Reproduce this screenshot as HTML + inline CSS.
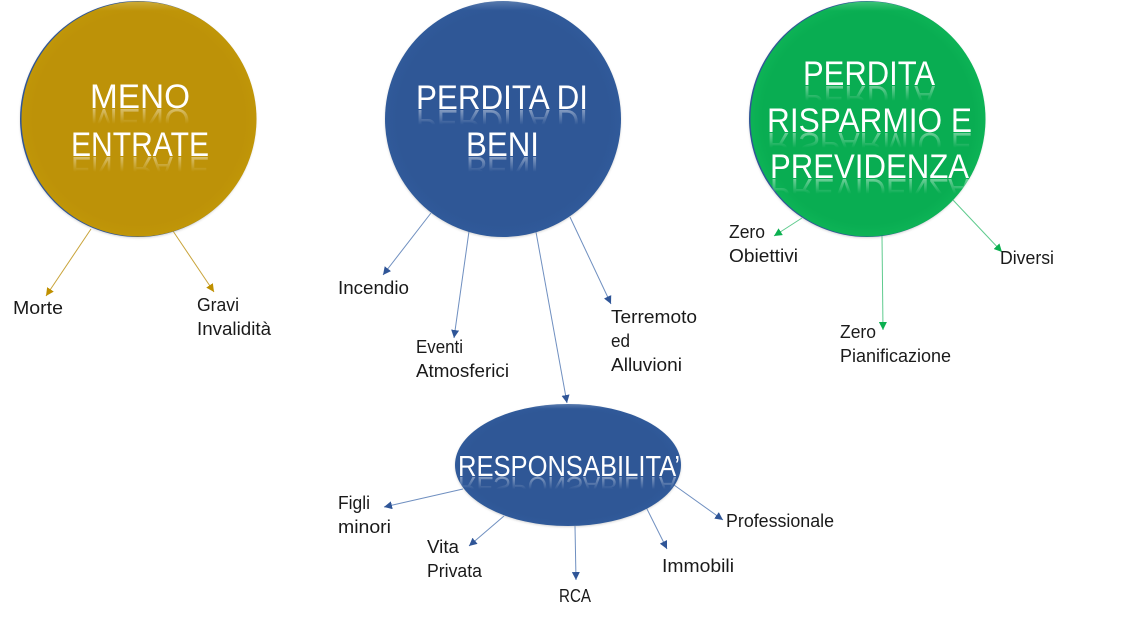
<!DOCTYPE html>
<html>
<head>
<meta charset="utf-8">
<style>
html,body{margin:0;padding:0;background:#fff;width:1121px;height:620px;overflow:hidden}
svg{display:block}
.l{font-family:"Liberation Sans",sans-serif;font-size:18px;fill:#1a1a1a}
.t{font-family:"Liberation Sans",sans-serif;font-size:34px;fill:#fff}
.r{font-family:"Liberation Sans",sans-serif;font-size:34px;fill:url(#refl)}
.s{font-size:29px}
.g{stroke:#c9a43a;stroke-width:1;fill:none;marker-end:url(#ag)}
.b{stroke:#6f8fc0;stroke-width:1;fill:none;marker-end:url(#ab)}
.n{stroke:#5fcb8e;stroke-width:1;fill:none;marker-end:url(#an)}
</style>
</head>
<body>
<svg width="1121" height="620" viewBox="0 0 1121 620" xmlns="http://www.w3.org/2000/svg">
<defs>
<radialGradient id="gold"><stop offset="0.9" stop-color="#bd9208"/><stop offset="1" stop-color="#c09608"/></radialGradient>
<radialGradient id="blue"><stop offset="0.9" stop-color="#2f5796"/><stop offset="1" stop-color="#305a9a"/></radialGradient>
<radialGradient id="green"><stop offset="0.9" stop-color="#09ad52"/><stop offset="1" stop-color="#0db356"/></radialGradient>
<linearGradient id="top" x1="0" y1="0" x2="0" y2="1"><stop offset="0" stop-color="#fff" stop-opacity=".2"/><stop offset="0.04" stop-color="#fff" stop-opacity="0"/></linearGradient>
<linearGradient id="refl" x1="0" y1="0" x2="0" y2="1"><stop offset="0" stop-color="#fff" stop-opacity="0"/><stop offset="0.4" stop-color="#fff" stop-opacity="0"/><stop offset="0.8" stop-color="#fff" stop-opacity="0.42"/><stop offset="1" stop-color="#fff" stop-opacity="0.42"/></linearGradient>
<marker id="ag" markerWidth="9" markerHeight="8" refX="8" refY="4" orient="auto" markerUnits="userSpaceOnUse"><path d="M0,0L8,4L0,8z" fill="#bf9000"/></marker>
<marker id="ab" markerWidth="9" markerHeight="8" refX="8" refY="4" orient="auto" markerUnits="userSpaceOnUse"><path d="M0,0L8,4L0,8z" fill="#2f5597"/></marker>
<marker id="an" markerWidth="9" markerHeight="8" refX="8" refY="4" orient="auto" markerUnits="userSpaceOnUse"><path d="M0,0L8,4L0,8z" fill="#0bb050"/></marker>
<filter id="sh" x="-10%" y="-10%" width="120%" height="120%"><feGaussianBlur stdDeviation="1"/></filter>
</defs>

<!-- connectors -->
<line class="g" x1="91" y1="229" x2="46" y2="296"/>
<line class="g" x1="173" y1="231" x2="214" y2="292"/>
<line class="b" x1="431" y1="213" x2="383" y2="275"/>
<line class="b" x1="471" y1="217" x2="454" y2="338"/>
<line class="b" x1="536" y1="232" x2="567" y2="403"/>
<line class="b" x1="570" y1="217" x2="611" y2="304"/>
<line class="b" x1="463" y1="489" x2="384" y2="507"/>
<line class="b" x1="504" y1="516" x2="469" y2="546"/>
<line class="b" x1="575" y1="526" x2="576" y2="580"/>
<line class="b" x1="646" y1="507" x2="667" y2="549"/>
<line class="b" x1="674" y1="485" x2="723" y2="520"/>
<line class="n" x1="802" y1="218" x2="774" y2="236"/>
<line class="n" x1="882" y1="236" x2="883" y2="330"/>
<line class="n" x1="953" y1="200" x2="1002" y2="252"/>

<!-- shapes -->
<circle cx="138" cy="120" r="118" fill="#999" filter="url(#sh)" opacity=".4"/>
<circle cx="138" cy="119" r="118" fill="#2f5597"/>
<circle cx="139" cy="119" r="117.5" fill="url(#gold)"/>
<circle cx="139" cy="119" r="117.5" fill="url(#top)"/>

<circle cx="503" cy="120" r="118" fill="#999" filter="url(#sh)" opacity=".4"/>
<circle cx="503" cy="119" r="118" fill="url(#blue)"/>
<circle cx="503" cy="119" r="118" fill="url(#top)"/>

<circle cx="867" cy="120" r="118" fill="#999" filter="url(#sh)" opacity=".4"/>
<circle cx="867" cy="119" r="118" fill="#2f5597"/>
<circle cx="868" cy="119" r="117.5" fill="url(#green)"/>
<circle cx="868" cy="119" r="117.5" fill="url(#top)"/>

<ellipse cx="568" cy="466" rx="113" ry="61" fill="#999" filter="url(#sh)" opacity=".4"/>
<ellipse cx="568" cy="465" rx="113" ry="61" fill="url(#blue)"/>
<ellipse cx="568" cy="465" rx="113" ry="61" fill="url(#top)"/>

<!-- reflections -->
<g aria-hidden="true">
<text class="r" transform="translate(0,109) scale(1,-1)" x="90" y="0" textLength="100" lengthAdjust="spacingAndGlyphs">MENO</text>
<text class="r" transform="translate(0,157) scale(1,-1)" x="71" y="0" textLength="138" lengthAdjust="spacingAndGlyphs">ENTRATE</text>
<text class="r" transform="translate(0,110) scale(1,-1)" x="416" y="0" textLength="172" lengthAdjust="spacingAndGlyphs">PERDITA DI</text>
<text class="r" transform="translate(0,157) scale(1,-1)" x="466" y="0" textLength="73" lengthAdjust="spacingAndGlyphs">BENI</text>
<text class="r" transform="translate(0,86) scale(1,-1)" x="803" y="0" textLength="132" lengthAdjust="spacingAndGlyphs">PERDITA</text>
<text class="r" transform="translate(0,133) scale(1,-1)" x="767" y="0" textLength="205" lengthAdjust="spacingAndGlyphs">RISPARMIO E</text>
<text class="r" transform="translate(0,179) scale(1,-1)" x="770" y="0" textLength="199" lengthAdjust="spacingAndGlyphs">PREVIDENZA</text>
<text class="r s" transform="translate(0,477) scale(1,-1)" x="458" y="0" textLength="222" lengthAdjust="spacingAndGlyphs">RESPONSABILITA’</text>
</g>

<!-- titles -->
<text class="t" x="90" y="108" textLength="100" lengthAdjust="spacingAndGlyphs">MENO</text>
<text class="t" x="71" y="156" textLength="138" lengthAdjust="spacingAndGlyphs">ENTRATE</text>
<text class="t" x="416" y="109" textLength="172" lengthAdjust="spacingAndGlyphs">PERDITA DI</text>
<text class="t" x="466" y="156" textLength="73" lengthAdjust="spacingAndGlyphs">BENI</text>
<text class="t" x="803" y="85" textLength="132" lengthAdjust="spacingAndGlyphs">PERDITA</text>
<text class="t" x="767" y="132" textLength="205" lengthAdjust="spacingAndGlyphs">RISPARMIO E</text>
<text class="t" x="770" y="178" textLength="199" lengthAdjust="spacingAndGlyphs">PREVIDENZA</text>
<text class="t s" x="458" y="476" textLength="222" lengthAdjust="spacingAndGlyphs">RESPONSABILITA’</text>

<!-- labels -->
<text class="l" x="13" y="314" textLength="50" lengthAdjust="spacingAndGlyphs">Morte</text>
<text class="l" x="197" y="311" textLength="42" lengthAdjust="spacingAndGlyphs">Gravi</text>
<text class="l" x="197" y="335" textLength="74" lengthAdjust="spacingAndGlyphs">Invalidità</text>
<text class="l" x="338" y="294" textLength="71" lengthAdjust="spacingAndGlyphs">Incendio</text>
<text class="l" x="416" y="353" textLength="47" lengthAdjust="spacingAndGlyphs">Eventi</text>
<text class="l" x="416" y="377" textLength="93" lengthAdjust="spacingAndGlyphs">Atmosferici</text>
<text class="l" x="611" y="323" textLength="86" lengthAdjust="spacingAndGlyphs">Terremoto</text>
<text class="l" x="611" y="347" textLength="19" lengthAdjust="spacingAndGlyphs">ed</text>
<text class="l" x="611" y="371" textLength="71" lengthAdjust="spacingAndGlyphs">Alluvioni</text>
<text class="l" x="338" y="509" textLength="32" lengthAdjust="spacingAndGlyphs">Figli</text>
<text class="l" x="338" y="533" textLength="53" lengthAdjust="spacingAndGlyphs">minori</text>
<text class="l" x="427" y="553" textLength="32" lengthAdjust="spacingAndGlyphs">Vita</text>
<text class="l" x="427" y="577" textLength="55" lengthAdjust="spacingAndGlyphs">Privata</text>
<text class="l" x="559" y="602" textLength="32" lengthAdjust="spacingAndGlyphs">RCA</text>
<text class="l" x="662" y="572" textLength="72" lengthAdjust="spacingAndGlyphs">Immobili</text>
<text class="l" x="726" y="527" textLength="108" lengthAdjust="spacingAndGlyphs">Professionale</text>
<text class="l" x="729" y="238" textLength="36" lengthAdjust="spacingAndGlyphs">Zero</text>
<text class="l" x="729" y="262" textLength="69" lengthAdjust="spacingAndGlyphs">Obiettivi</text>
<text class="l" x="1000" y="264" textLength="54" lengthAdjust="spacingAndGlyphs">Diversi</text>
<text class="l" x="840" y="338" textLength="36" lengthAdjust="spacingAndGlyphs">Zero</text>
<text class="l" x="840" y="362" textLength="111" lengthAdjust="spacingAndGlyphs">Pianificazione</text>
</svg>
</body>
</html>
